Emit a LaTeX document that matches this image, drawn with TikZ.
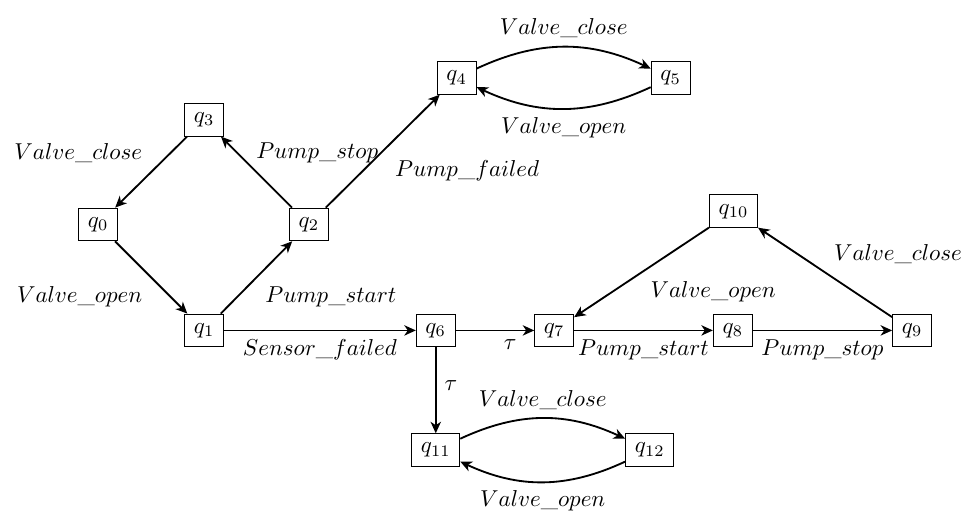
\documentclass[tikz,border=0pt]{standalone}
\usepackage{amsmath,amssymb}
\usetikzlibrary{arrows.meta}

\begin{document}
\begin{tikzpicture}
[ thick, >={Stealth[length=5pt, width=4.5pt, inset=1.5pt]}
, state/.style={rectangle, draw, thin, inner sep=4pt}
, event/.style={inner sep=3.5pt}
]
\useasboundingbox (0,0) rectangle (14.81,-7.96);
% States:
\node (q0) [state] at (1.50,-3.43) {$q_0$};
\node (q1) [state] at (3.12,-5.05) {$q_1$};
\node (q2) [state] at (4.72,-3.43) {$q_2$};
\node (q3) [state] at (3.12,-1.83) {$q_3$};
\node (q4) [state] at (6.98,-1.19) {$q_4$};
\node (q5) [state] at (10.25,-1.19) {$q_5$};
\node (q6) [state] at (6.66,-5.05) {$q_6$};
\node (q7) [state] at (8.47,-5.05) {$q_7$};
\node (q8) [state] at (11.20,-5.05) {$q_8$};
\node (q9) [state] at (13.94,-5.05) {$q_9$};
\node (q10) [state] at (11.21,-3.23) {$q_{10}$};
\node (q11) [state] at (6.66,-6.88) {$q_{11}$};
\node (q12) [state] at (9.93,-6.88) {$q_{12}$};
% Transitions:
\draw [->] (q3) -- node [event, above left] {$Valve\_close$} (q0);
\draw [->] (q0) -- node [event, below left] {$Valve\_open$} (q1);
\draw [->] (q1) -- node [event, below right] {$Pump\_start$} (q2);
\draw [->] (q2) -- node [event, above right, xshift=-4pt] {$Pump\_stop$} (q3);
\draw [->] (q2) -- node [event, below right, xshift=1.5pt] {$Pump\_failed$} (q4);
\draw [->] (q1) -- node [event, below] {$Sensor\_failed$} (q6);
\draw [->] (q4) to [bend left=25] node [event, above] {$Valve\_close$} (q5);
\draw [->] (q5) to [bend left=25] node [event, below] {$Valve\_open$} (q4);
\draw [->] (q6) -- node [event, below right] {$\tau$} (q7);
\draw [->] (q6) -- node [event, right, yshift=2pt] {$\tau$} (q11);
\draw [->] (q11) to [bend left=25] node [event, above] {$Valve\_close$} (q12);
\draw [->] (q12) to [bend left=25] node [event, below] {$Valve\_open$} (q11);
\draw [->] (q7) -- node [event, below] {$Pump\_start$} (q8);
\draw [->] (q8) -- node [event, below] {$Pump\_stop$} (q9);
\draw [->] (q9) -- node [event, above right] {$Valve\_close$} (q10);
\draw [->] (q10) -- node [event, below right] {$Valve\_open$} (q7);
\end{tikzpicture}
\end{document}
